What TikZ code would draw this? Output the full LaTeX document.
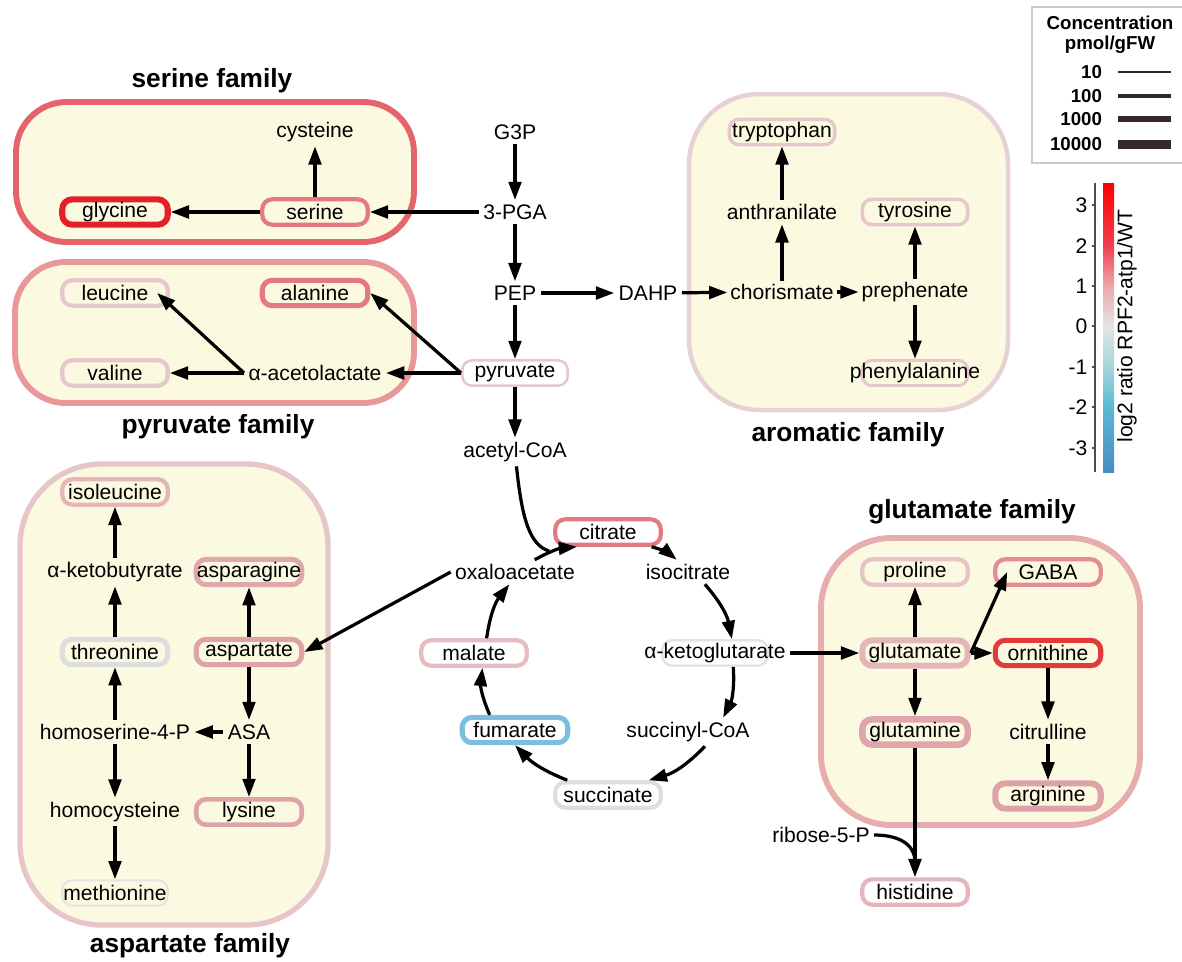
\documentclass[tikz,border=0pt]{standalone}
\usepackage{fontspec}
\setmainfont{Liberation Sans}
\usepackage{xcolor}
\usepackage{tikz}
\usetikzlibrary{arrows.meta}

\newcommand{\molfont}{\fontsize{15}{18}\selectfont}
\newcommand{\famfont}{\fontsize{18.7}{22}\selectfont\bfseries}
\newcommand{\legfont}{\fontsize{13.3}{15}\selectfont\bfseries}

% family and metabolite colours
\definecolor{famfill}{RGB}{252,249,225}
\definecolor{serfam}{RGB}{229,99,106}
\definecolor{pyrfam}{RGB}{232,152,154}
\definecolor{arofam}{RGB}{230,210,212}
\definecolor{aspfam}{RGB}{230,198,200}
\definecolor{glufam}{RGB}{230,172,174}
\definecolor{hired}{RGB}{226,32,40}
\definecolor{ornred}{RGB}{226,58,58}
\definecolor{midred}{RGB}{228,122,128}
\definecolor{gabared}{RGB}{228,140,150}
\definecolor{dustred}{RGB}{222,162,170}
\definecolor{softred}{RGB}{228,182,188}
\definecolor{lowred}{RGB}{230,200,204}
\definecolor{palered}{RGB}{236,224,228}
\definecolor{fumblue}{RGB}{122,190,224}
\definecolor{neutral}{RGB}{220,222,224}
\definecolor{legline}{RGB}{51,41,38}
% colour bar
\definecolor{cbA}{RGB}{74,140,192}
\definecolor{cbB}{RGB}{90,184,213}
\definecolor{cbC}{RGB}{166,214,218}
\definecolor{cbD}{RGB}{228,228,228}
\definecolor{cbE}{RGB}{236,166,172}
\definecolor{cbF}{RGB}{240,64,80}
\definecolor{cbG}{RGB}{255,0,0}
\pgfdeclareverticalshading{ratiobar}{100bp}{color(0bp)=(cbA); color(25bp)=(cbA);
  color(36.2bp)=(cbB); color(43.2bp)=(cbC); color(50.3bp)=(cbD);
  color(57.2bp)=(cbE); color(64.1bp)=(cbF); color(75bp)=(cbG); color(100bp)=(cbG)}

\begin{document}
\begin{tikzpicture}[
    x=0.025cm, y=-0.025cm,
    mol/.style={rectangle, draw, rounded corners=7pt, minimum width=75pt, minimum height=18pt, inner sep=0pt, font=\molfont},
    txt/.style={inner sep=3pt, font=\molfont},
    family/.style={fill=famfill, line width=4.2pt},
    famtitle/.style={font=\famfont},
    arrow/.style={-{Triangle[length=13pt,width=9pt]}, line width=2.3pt},
    link/.style={line width=2.3pt}
]
\useasboundingbox (0,0) rectangle (1182,961);
% Families
\draw[family, draw=serfam, rounded corners=36pt] (16,102) rectangle (414,242);
\draw[family, draw=pyrfam, rounded corners=36pt] (15,262) rectangle (414,403);
\draw[family, draw=arofam, line width=3.2pt, rounded corners=50pt] (689,94) rectangle (1008,410);
\draw[family, draw=aspfam, line width=3.8pt, rounded corners=58pt] (20,464) rectangle (328,925);
\draw[family, draw=glufam, rounded corners=50pt] (821,538) rectangle (1140,825);
\node[famtitle] (sertitle) at (212,81) {serine family};
\node[famtitle] (pyrtitle) at (218,427) {pyruvate family};
\node[famtitle] (arotitle) at (848,435) {aromatic family};
\node[famtitle] (asptitle) at (190,946) {aspartate family};
\node[famtitle] (glutitle) at (972,512) {glutamate family};
% Glycolysis
\node[txt] (g3p) at (515,132) {G3P};
\node[txt] (pga) at (515,212) {3-PGA};
\node[txt] (pep) at (515,293) {PEP};
\node[txt] (dahp) at (648,293) {DAHP};
\node[mol, draw=lowred, line width=1.8pt] (pyr) at (515,373) {pyruvate};
\node[txt] (acoa) at (515,452) {acetyl-CoA};
% Serine family
\node[txt] (cys) at (315,132) {cysteine};
\node[mol, draw=midred, line width=3pt] (ser) at (315,212) {serine};
\node[mol, draw=hired, line width=4.3pt] (gly) at (115,212) {glycine};
% Pyruvate family
\node[mol, draw=lowred, line width=3pt] (leu) at (115,293) {leucine};
\node[mol, draw=midred, line width=3.6pt] (ala) at (315,293) {alanine};
\node[mol, draw=lowred, line width=3pt] (val) at (115,373) {valine};
\node[txt] (acl) at (315,373) {α-acetolactate};
% Aromatic family
\node[mol, draw=lowred, line width=2.5pt] (trp) at (782,132) {tryptophan};
\node[txt] (ant) at (782,212) {anthranilate};
\node[mol, draw=lowred, line width=2.5pt] (tyr) at (915,212) {tyrosine};
\node[txt, inner sep=2pt] (cho) at (782,292) {chorismate};
\node[txt, inner sep=2pt] (pre) at (915,292) {prephenate};
\node[mol, draw=lowred, line width=2.2pt] (phe) at (915,373) {\makebox[0pt]{phenylalanine}};
% TCA cycle
\node[mol, draw=midred, line width=3pt] (cit) at (608,532) {citrate};
\node[txt] (icit) at (688,572) {isocitrate};
\node[mol, draw=palered, line width=1.8pt] (akg) at (715,653) {\makebox[0pt]{α-ketoglutarate}};
\node[txt] (scoa) at (688,732) {succinyl-CoA};
\node[mol, draw=neutral, line width=3pt] (suc) at (608,795) {succinate};
\node[mol, draw=fumblue, line width=3.6pt] (fum) at (515,730) {fumarate};
\node[mol, draw=lowred!85!midred, line width=3pt] (mal) at (474,653) {malate};
\node[txt] (oaa) at (515,572) {oxaloacetate};
\coordinate (tcajoin) at (549,551);
% Aspartate family
\node[mol, draw=softred, line width=3pt] (ile) at (115,492) {isoleucine};
\node[txt] (akb) at (115,572) {α-ketobutyrate};
\node[mol, draw=dustred!85!lowred, line width=3.6pt] (asn) at (249,572) {asparagine};
\node[mol, draw=neutral, line width=3.6pt] (thr) at (115,652) {threonine};
\node[mol, draw=dustred, line width=3.6pt] (asp) at (249,652) {aspartate};
\node[txt] (hs4p) at (115,732) {homoserine-4-P};
\node[txt] (asa) at (249,732) {ASA};
\node[txt] (hcy) at (115,812) {homocysteine};
\node[mol, draw=dustred, line width=3.3pt] (lys) at (249,812) {lysine};
\node[mol, draw=palered, line width=1.5pt] (met) at (115,893) {\makebox[0pt]{methionine}};
% Glutamate family
\node[mol, draw=lowred!80!softred, line width=3pt] (pro) at (915,572) {proline};
\node[mol, draw=gabared, line width=3pt] (gaba) at (1048,572) {GABA};
\node[mol, draw=softred, line width=4.3pt] (glu) at (915,653) {glutamate};
\node[mol, draw=ornred, line width=3.6pt] (orn) at (1048,653) {ornithine};
\node[mol, draw=dustred!85!softred, line width=4.6pt] (gln) at (915,732) {glutamine};
\node[txt] (citr) at (1048,732) {citrulline};
\node[mol, draw=dustred, line width=4.3pt] (arg) at (1048,796) {arginine};
\node[mol, draw=softred, line width=3pt] (his) at (915,892) {histidine};
\node[txt] (rib) at (821,835) {ribose-5-P};
\coordinate (ribjoin) at (915,862);
% Arrows
\draw[arrow] (g3p) -- (pga);
\draw[arrow] (pga) -- (pep);
\draw[arrow] (pep) -- (pyr);
\draw[arrow] (pyr) -- (acoa);
\draw[arrow] (pep) -- (dahp);
\draw[arrow] (dahp) -- (cho);
\draw[arrow] (pga) -- (ser);
\draw[arrow] (ser) -- (gly);
\draw[arrow] (ser) -- (cys);
\draw[arrow] (pyr.west) -- (ala.east);
\draw[arrow] (pyr.west) -- (acl);
\draw[arrow] (acl) -- (val);
\draw[arrow] (acl.west) -- ([xshift=-9pt]leu.east);
\draw[arrow] (cho) -- (ant);
\draw[arrow] (ant) -- (trp);
\draw[arrow] (cho) -- (pre);
\draw[arrow] (pre) -- (tyr);
\draw[arrow] (pre) -- (phe);
% TCA cycle arrows
\draw[arrow] ([xshift=14pt]oaa.north) to[bend left=12] ([xshift=-22pt]cit.south);
\draw[arrow] ([xshift=-8pt]cit.south east) to[bend left=12] ([xshift=-8pt]icit.north);
\draw[arrow] ([xshift=12pt]icit.south) to[bend left=15] ([xshift=12pt]akg.north);
\draw[arrow] ([xshift=13pt]akg.south) to[bend left=15] ([xshift=25pt]scoa.north);
\draw[arrow] ([xshift=12pt]scoa.south) to[bend left=15] ([xshift=-10pt]suc.north east);
\draw[arrow] ([xshift=10pt]suc.north west) to[bend left=12] (fum.south);
\draw[arrow] ([xshift=-18pt]fum.north) to[bend left=15] ([xshift=6pt]mal.south);
\draw[arrow] ([xshift=9pt]mal.north) to[bend left=15] ([xshift=-4pt]oaa.south);
\draw[link] (acoa) .. controls (522,520) and (530,545) .. (tcajoin);
\draw[arrow] (oaa.west) -- (asp.east);
\draw[arrow] (akb) -- (ile);
\draw[arrow] (thr) -- (akb);
\draw[arrow] (hs4p) -- (thr);
\draw[arrow] (hs4p) -- (hcy);
\draw[arrow] (hcy) -- (met);
\draw[arrow] (asp) -- (asn);
\draw[arrow] (asp) -- (asa);
\draw[arrow] (asa) -- (hs4p);
\draw[arrow] (asa) -- (lys);
\draw[arrow] ([xshift=53pt]akg.center) -- (glu);
\draw[arrow] (glu) -- (pro);
\draw[arrow] (glu) -- (gln);
\draw[arrow] (glu) -- (orn);
\draw[arrow] (glu.east) -- ([xshift=10pt]gaba.west);
\draw[arrow] (orn) -- (citr);
\draw[arrow] (citr) -- (arg);
\draw[arrow] (gln) -- (his);
\draw[link] (rib.east) .. controls (900,835) and (915,845) .. (ribjoin);
% Concentration legend
\draw[black!20, line width=1pt] (1032,7) rectangle (1200,163);
\node[font=\legfont, align=center] (conc) at (1110,35) {Concentration\\[-1pt]pmol/gFW};
\node[font=\legfont, anchor=east] (l10) at (1107,72) {10};
\node[font=\legfont, anchor=east] (l100) at (1107,96) {100};
\node[font=\legfont, anchor=east] (l1000) at (1107,119) {1000};
\node[font=\legfont, anchor=east] (l10000) at (1107,144) {10000};
\draw[legline, line width=1.4pt] ([xshift=8pt]l10.east) -- ++(53,0);
\draw[legline, line width=2.8pt] ([xshift=8pt]l100.east) -- ++(53,0);
\draw[legline, line width=4.3pt] ([xshift=8pt]l1000.east) -- ++(53,0);
\draw[legline, line width=6.4pt] ([xshift=8pt]l10000.east) -- ++(53,0);
% Colour bar
\shade[shading=ratiobar] (1103,183) rectangle (1114,472);
\draw[black!70, line width=0.8pt] (1095,183) -- (1095,472);
\foreach \v/\y in {3/205,2/246,1/286,0/326,-1/367,-2/407,-3/448}{
  \draw[black!70, line width=0.8pt] (1092,\y) -- (1095,\y);
  \node[font=\molfont, anchor=east, inner sep=1pt] (tick\y) at (1089,\y) {\v};
}
\node[font=\molfont, rotate=90] (cblabel) at (1127,326) {log2 ratio RPF2-atp1/WT};
\end{tikzpicture}
\end{document}
